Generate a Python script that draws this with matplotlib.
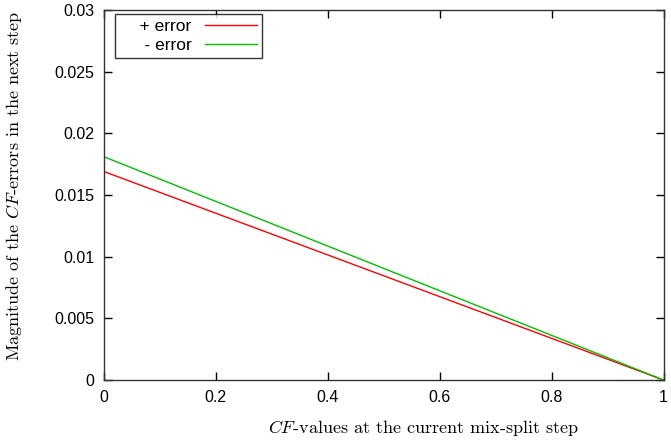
import numpy as np
import matplotlib
matplotlib.use('Agg')
import matplotlib.pyplot as plt

# valeurs
cf_values = [0.0, 0.2, 0.4, 0.6, 0.8, 1.0]
plus_error = [0.0169, 0.01352, 0.01014, 0.00676, 0.00338, 0.0]
minus_error = [0.0181, 0.01448, 0.01086, 0.00724, 0.00362, 0.0]

xticks = [0, 0.2, 0.4, 0.6, 0.8, 1]
xtick_labels = ['0', '0.2', '0.4', '0.6', '0.8', '1']
yticks = [0, 0.005, 0.01, 0.015, 0.02, 0.025, 0.03]
ytick_labels = ['0', '0.005', '0.01', '0.015', '0.02', '0.025', '0.03']

plt.rcParams['font.family'] = ['Liberation Sans', 'DejaVu Sans']
plt.rcParams['mathtext.fontset'] = 'cm'

fig = plt.figure(figsize=(6.71, 4.44), dpi=100)
ax = fig.add_axes([0.155, 0.144, 0.834, 0.8335])

ax.plot(cf_values, plus_error, color='#ff0000', lw=1.0, label='    + error')
ax.plot(cf_values, minus_error, color='#00c000', lw=1.0, label='    - error')

ax.set_xlim(0, 1)
ax.set_ylim(0, 0.03)
ax.set_xticks(xticks)
ax.set_xticklabels(xtick_labels)
ax.set_yticks(yticks)
ax.set_yticklabels(ytick_labels)
ax.tick_params(direction='in', top=True, right=True, length=6, width=1,
               labelsize=11.5, pad=7)
for s in ax.spines.values():
    s.set_linewidth(1.0)
    s.set_color('#333333')

ax.set_xlabel(r'$CF$-values at the current mix-split step',
              fontfamily='cmr10', fontsize=13, va='center')
ax.xaxis.set_label_coords(0.571, -0.13)
ax.set_ylabel(r'Magnitude of the $CF$-errors in the next step',
              fontfamily='cmr10', fontsize=13, va='center')
ax.yaxis.set_label_coords(-0.161, 0.524)

leg = ax.legend(loc='upper left', bbox_to_anchor=(0.0196, 0.989),
                markerfirst=False, fontsize=12.5,
                frameon=True, fancybox=False, borderaxespad=0,
                handlelength=2.95, handletextpad=0.8, labelspacing=0.2,
                borderpad=0.3)
leg.get_frame().set_edgecolor('black')
leg.get_frame().set_linewidth(1.0)
# texte aligné à droite comme dans gnuplot
for col in leg._legend_handle_box.get_children():
    col.align = 'right'

fig.savefig('out.png', dpi=100)
